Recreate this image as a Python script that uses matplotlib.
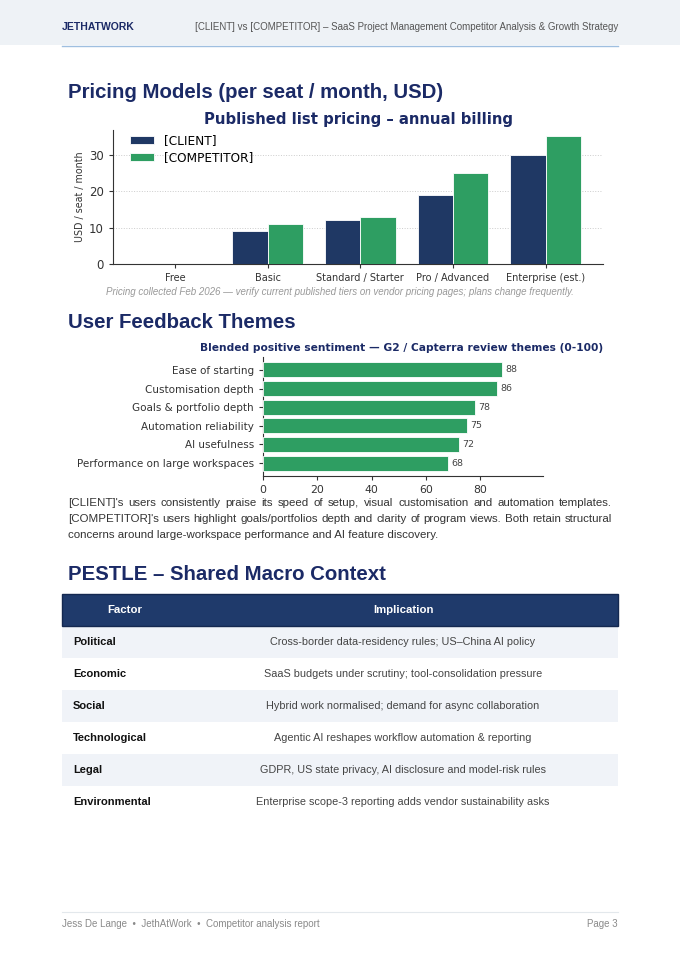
import matplotlib
matplotlib.use("Agg")
import matplotlib.pyplot as plt
from matplotlib.patches import Rectangle
from matplotlib.lines import Line2D

# ---------------- data ----------------
tiers = ["Free", "Basic", "Standard / Starter", "Pro / Advanced", "Enterprise (est.)"]
client_price = [0, 9, 12, 19, 30]
competitor_price = [0, 11, 13, 25, 35]

themes = ["Ease of starting", "Customisation depth", "Goals & portfolio depth",
          "Automation reliability", "AI usefulness", "Performance on large workspaces"]
sentiment = [88, 86, 78, 75, 72, 68]

pestle_factors = ["Political", "Economic", "Social", "Technological", "Legal", "Environmental"]
pestle_implications = [
    "Cross-border data-residency rules; US\u2013China AI policy",
    "SaaS budgets under scrutiny; tool-consolidation pressure",
    "Hybrid work normalised; demand for async collaboration",
    "Agentic AI reshapes workflow automation & reporting",
    "GDPR, US state privacy, AI disclosure and model-risk rules",
    "Enterprise scope-3 reporting adds vendor sustainability asks",
]

paragraph_lines = [
    "[CLIENT]'s users consistently praise its speed of setup, visual customisation and automation templates.",
    "[COMPETITOR]'s users highlight goals/portfolios depth and clarity of program views. Both retain structural",
    "concerns around large-workspace performance and AI feature discovery.",
]

# ---------------- style ----------------
NAVY = "#1f3864"
HEAD_NAVY = "#1b2a66"
GREEN = "#2e9e62"
SANS = ["Liberation Sans", "DejaVu Sans"]
W, H = 680, 961

fig = plt.figure(figsize=(W / 100, H / 100), dpi=100)
fig.patch.set_facecolor("white")


def fx(x):
    return x / W


def fy(y):
    return 1 - y / H


def ptext(x, y, s, **kw):
    kw.setdefault("family", SANS)
    return fig.text(fx(x), fy(y), s, **kw)


def prect(x0, y0, x1, y1, **kw):
    r = Rectangle((fx(x0), fy(y1)), fx(x1) - fx(x0), fy(y0) - fy(y1),
                  transform=fig.transFigure, **kw)
    fig.add_artist(r)


def pline(x0, y0, x1, y1, **kw):
    fig.add_artist(Line2D([fx(x0), fx(x1)], [fy(y0), fy(y1)], transform=fig.transFigure, **kw))


# header band
prect(0, 0, W, 45, facecolor="#eef2f6", edgecolor="none", zorder=0)
pline(62, 46, 618, 46, color="#9fbfe0", lw=1.0)
ptext(62, 27, "JETHATWORK", fontsize=7.5, fontweight="bold", color=HEAD_NAVY, va="center")
ptext(618, 27, "[CLIENT] vs [COMPETITOR] \u2013 SaaS Project Management Competitor Analysis & Growth Strategy",
      fontsize=7.0, color="#555555", va="center", ha="right")

# headings
for y, s in [(92, "Pricing Models (per seat / month, USD)"),
             (322, "User Feedback Themes"),
             (575, "PESTLE \u2013 Shared Macro Context")]:
    ptext(68, y, s, fontsize=14.7, fontweight="bold", color=HEAD_NAVY, va="center")

# ---------------- chart 1 ----------------
ax1 = fig.add_axes([fx(113), fy(264), fx(603) - fx(113), fy(130) - fy(264)])
xs = list(range(len(tiers)))
bw = 0.38
ax1.bar([x - bw / 2 for x in xs], client_price, bw, color=NAVY, edgecolor="white", linewidth=0.6,
        label="[CLIENT]", zorder=3)
ax1.bar([x + bw / 2 for x in xs], competitor_price, bw, color=GREEN, edgecolor="white", linewidth=0.6,
        label="[COMPETITOR]", zorder=3)
ax1.set_xlim(-0.67, 4.62)
ax1.set_xticks(xs)
ax1.set_xticklabels(tiers, fontsize=7.0, color="#333333")
ax1.set_yticks([0, 10, 20, 30])
ax1.tick_params(axis="y", labelsize=8.5, colors="#333333", length=3)
ax1.tick_params(axis="x", length=3, colors="#333333")
ax1.grid(axis="y", linestyle=":", color="#cccccc", linewidth=0.7, zorder=0)
for s in ["top", "right"]:
    ax1.spines[s].set_visible(False)
for s in ["left", "bottom"]:
    ax1.spines[s].set_color("#333333")
    ax1.spines[s].set_linewidth(0.8)
ax1.set_ylabel("USD / seat / month", fontsize=7.7, color="#333333", fontstretch="condensed",
               family=["DejaVu Sans"], labelpad=3)
ax1.set_title("Published list pricing \u2013 annual billing", fontsize=10.7, fontweight="bold",
              color=HEAD_NAVY, pad=4)
ax1.legend(loc="upper left", frameon=False, prop={"size": 8.7}, handlelength=2.0, handleheight=0.6,
           handletextpad=0.85, borderpad=0, borderaxespad=0, labelspacing=0.35,
           bbox_to_anchor=((130 - 113) / 490, 1 - 4 / 134))

ptext(340, 292, "Pricing collected Feb 2026 \u2014 verify current published tiers on vendor pricing pages; plans change frequently.",
      fontsize=7.0, style="italic", color="#999999", ha="center", va="center")

# ---------------- chart 2 ----------------
ax2 = fig.add_axes([fx(263), fy(476), fx(543) - fx(263), fy(357) - fy(476)])
ys = list(range(len(themes)))
ax2.barh(ys, sentiment, 0.8, color=GREEN, edgecolor="white", linewidth=0.6, zorder=3)
ax2.set_yticks(ys)
ax2.set_yticklabels(themes, fontsize=7.5, color="#333333")
ax2.invert_yaxis()
ax2.set_xlim(0, 103)
ax2.set_xticks([0, 20, 40, 60, 80])
ax2.tick_params(axis="x", labelsize=7.8, colors="#333333", length=3)
ax2.tick_params(axis="y", length=3, colors="#333333")
for s in ["top", "right"]:
    ax2.spines[s].set_visible(False)
for s in ["left", "bottom"]:
    ax2.spines[s].set_color("#333333")
    ax2.spines[s].set_linewidth(0.8)
for y, v in zip(ys, sentiment):
    ax2.text(v + 1.2, y, f"{v}", fontsize=6.8, color="#444444", va="center", ha="left")
ax2.set_title("Blended positive sentiment \u2014 G2 / Capterra review themes (0-100)", fontsize=7.7,
              fontweight="bold", color=HEAD_NAVY, pad=4)
ax2.title.set_x((402 - 263) / 280)

# ---------------- paragraph (justified) ----------------
fig.canvas.draw()
renderer = fig.canvas.get_renderer()
para_left, para_right = 68, 612
para_y = [503, 519, 535]
PFS = 8.25
for i, (line, y) in enumerate(zip(paragraph_lines, para_y)):
    words = line.split(" ")
    if i == len(paragraph_lines) - 1:
        ptext(para_left, y, line, fontsize=PFS, color="#333333", va="center")
        continue
    arts = [ptext(para_left, y, w, fontsize=PFS, color="#333333", va="center") for w in words]
    widths = [a.get_window_extent(renderer).width for a in arts]
    gap = ((para_right - para_left) - sum(widths)) / (len(words) - 1)
    x = para_left
    for a, wdt in zip(arts, widths):
        a.set_position((fx(x), fy(y)))
        x += wdt + gap

# ---------------- table ----------------
tx0, tx1, split = 62, 618, 188
prect(tx0, 594, tx1, 626, facecolor="#1f3a6b", edgecolor="#142850", linewidth=1.0, zorder=1)
ptext((tx0 + split) / 2, 610, "Factor", fontsize=8.2, fontweight="bold", color="white", ha="center", va="center")
ptext((split + tx1) / 2, 610, "Implication", fontsize=8.2, fontweight="bold", color="white", ha="center", va="center")
row_h = 32
for i, (f, imp) in enumerate(zip(pestle_factors, pestle_implications)):
    y0 = 626 + i * row_h
    if i % 2 == 0:
        prect(tx0, y0, tx1, y0 + row_h, facecolor="#f0f3f8", edgecolor="none", zorder=0)
    yc = y0 + row_h / 2
    ptext(73, yc, f, fontsize=8, fontweight="bold", color="#111111", ha="left", va="center")
    ptext((split + tx1) / 2, yc, imp, fontsize=7.8, color="#444444", ha="center", va="center")

# ---------------- footer ----------------
pline(62, 912, 618, 912, color="#e3e8ec", lw=0.8)
ptext(62, 924, "Jess De Lange  \u2022  JethAtWork  \u2022  Competitor analysis report", fontsize=7,
      color="#8a8a8a", va="center")
ptext(618, 924, "Page 3", fontsize=7, color="#8a8a8a", va="center", ha="right")

fig.savefig("out.png", dpi=100, facecolor="white")
